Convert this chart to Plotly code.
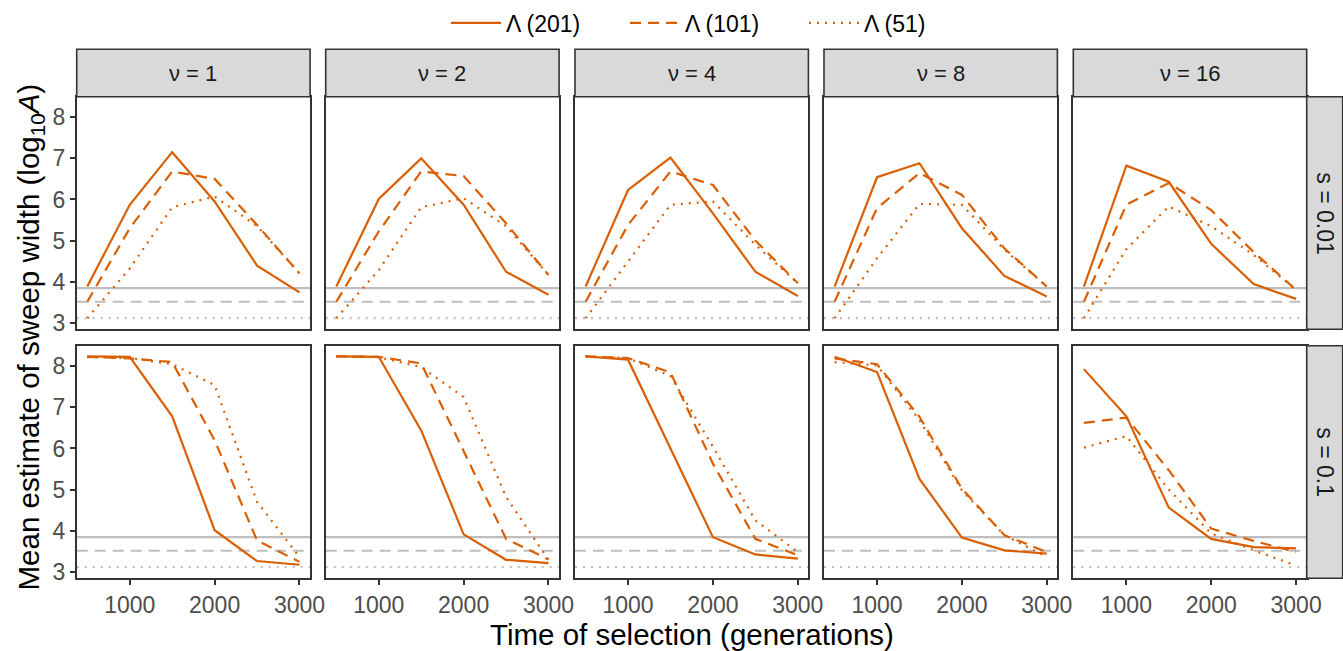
import plotly.graph_objects as go

# Time of selection (generations)
generations = [500, 1000, 1500, 2000, 2500, 3000]
nu_labels = ["ν = 1", "ν = 2", "ν = 4", "ν = 8", "ν = 16"]
s_labels = ["s = 0.01", "s = 0.1"]
y_ticks = [3, 4, 5, 6, 7, 8]
x_ticks = [1000, 2000, 3000]

# Mean log10 sweep width, one list per ν; s = 0.01
s001_lambda201 = [
    [3.88, 5.87, 7.15, 5.95, 4.39, 3.74],
    [3.88, 6.01, 7.00, 5.87, 4.24, 3.68],
    [3.88, 6.23, 7.02, 5.66, 4.24, 3.65],
    [3.88, 6.54, 6.88, 5.30, 4.14, 3.64],
    [3.88, 6.82, 6.43, 4.92, 3.94, 3.58],
]
s001_lambda101 = [
    [3.51, 5.30, 6.68, 6.50, 5.38, 4.20],
    [3.51, 5.22, 6.68, 6.57, 5.42, 4.16],
    [3.51, 5.38, 6.68, 6.35, 5.00, 3.96],
    [3.51, 5.79, 6.64, 6.11, 4.81, 3.88],
    [3.51, 5.87, 6.40, 5.74, 4.72, 3.80],
]
s001_lambda51 = [
    [3.11, 4.32, 5.81, 6.07, 5.35, 4.20],
    [3.11, 4.28, 5.81, 6.03, 5.35, 4.16],
    [3.11, 4.49, 5.87, 5.95, 4.90, 3.96],
    [3.11, 4.57, 5.89, 5.87, 4.78, 3.88],
    [3.11, 4.79, 5.83, 5.35, 4.65, 3.80],
]
# s = 0.1
s01_lambda201 = [
    [8.24, 8.23, 6.78, 4.01, 3.26, 3.17],
    [8.24, 8.23, 6.44, 3.91, 3.29, 3.21],
    [8.24, 8.16, 6.00, 3.84, 3.42, 3.32],
    [8.23, 7.86, 5.26, 3.83, 3.52, 3.44],
    [7.93, 6.78, 4.56, 3.80, 3.60, 3.57],
]
s01_lambda101 = [
    [8.23, 8.19, 8.10, 6.20, 3.76, 3.24],
    [8.24, 8.23, 8.07, 5.95, 3.80, 3.30],
    [8.24, 8.20, 7.85, 5.63, 3.80, 3.40],
    [8.19, 8.05, 6.77, 5.02, 3.89, 3.48],
    [6.62, 6.75, 5.47, 4.05, 3.75, 3.48],
]
s01_lambda51 = [
    [8.22, 8.20, 8.05, 7.54, 4.70, 3.36],
    [8.24, 8.22, 7.98, 7.25, 4.82, 3.29],
    [8.24, 8.20, 7.76, 6.04, 4.25, 3.48],
    [8.10, 8.02, 6.69, 4.98, 3.89, 3.36],
    [6.02, 6.30, 5.00, 3.93, 3.52, 3.15],
]
# Neutral baseline for each window size
baseline_201 = 3.84
baseline_101 = 3.51
baseline_51 = 3.11

series_names = ["Λ (201)", "Λ (101)", "Λ (51)"]

W, H = 1343, 651
ORANGE = "#D95F02"
GREY = "#BEBEBE"
DARK = "#333333"
FONT = "Liberation Sans, Arial, sans-serif"

dashes = ["solid", "11px,7px", "2px,6px"]

# panel geometry in pixels
col_left = [76.7, 325.7, 575.0, 824.0, 1073.3]
panel_w = 233.4
row_top = [96.7, 345.7]
panel_h = 232.6
strip_top = 49.3
strip_right = 1342.7

rows = [
    [s001_lambda201, s001_lambda101, s001_lambda51],
    [s01_lambda201, s01_lambda101, s01_lambda51],
]
baselines = [baseline_201, baseline_101, baseline_51]

fig = go.Figure()
layout = {}
shapes = []
annotations = []

for r in range(2):
    for c in range(5):
        k = r * 5 + c + 1
        xa = "x" if k == 1 else f"x{k}"
        ya = "y" if k == 1 else f"y{k}"
        x0 = col_left[c] / W
        x1 = (col_left[c] + panel_w) / W
        y1 = 1 - row_top[r] / H
        y0 = 1 - (row_top[r] + panel_h) / H
        bottom = r == 1
        left = c == 0
        layout["xaxis" if k == 1 else f"xaxis{k}"] = dict(
            domain=[x0, x1], anchor=ya, range=[375, 3125],
            showline=True, mirror=True, linecolor=DARK, linewidth=1.6,
            showgrid=False, zeroline=False,
            tickvals=x_ticks, ticks="outside" if bottom else "",
            ticklen=5, tickwidth=1.5, tickcolor=DARK,
            showticklabels=bottom,
            tickfont=dict(size=23, color="#4D4D4D", family=FONT),
        )
        layout["yaxis" if k == 1 else f"yaxis{k}"] = dict(
            domain=[y0, y1], anchor=xa, range=[2.84, 8.5],
            showline=True, mirror=True, linecolor=DARK, linewidth=1.6,
            showgrid=False, zeroline=False,
            tickvals=y_ticks, ticks="outside" if left else "",
            ticklen=5, tickwidth=1.5, tickcolor=DARK,
            showticklabels=left,
            tickfont=dict(size=23, color="#4D4D4D", family=FONT),
        )
        # baselines
        for b, d in zip(baselines, dashes):
            shapes.append(dict(
                type="line", xref=f"{xa} domain", yref=ya,
                x0=0, x1=1, y0=b, y1=b, layer="below",
                line=dict(color=GREY, width=2.2, dash=d),
            ))
        # series
        for j, (data, name, d) in enumerate(zip(rows[r], series_names, dashes)):
            fig.add_trace(go.Scatter(
                x=generations, y=data[c], mode="lines", name=name,
                legendgroup=name, showlegend=(k == 1),
                line=dict(color=ORANGE, width=2.2, dash=d),
                xaxis=xa, yaxis=ya,
            ))

# top strips
for c in range(5):
    x0 = col_left[c] / W
    x1 = (col_left[c] + panel_w) / W
    shapes.append(dict(
        type="rect", xref="paper", yref="paper",
        x0=x0, x1=x1, y0=1 - row_top[0] / H, y1=1 - strip_top / H,
        fillcolor="#D9D9D9", line=dict(color=DARK, width=1.6), layer="above",
    ))
    annotations.append(dict(
        text=nu_labels[c], xref="paper", yref="paper",
        x=(x0 + x1) / 2, y=1 - (strip_top + row_top[0]) / 2 / H,
        showarrow=False, xanchor="center", yanchor="middle",
        font=dict(size=22, color="#1A1A1A", family=FONT),
    ))

# right strips
sx0 = (col_left[4] + panel_w) / W
for r in range(2):
    y1 = 1 - row_top[r] / H
    y0 = 1 - (row_top[r] + panel_h) / H
    shapes.append(dict(
        type="rect", xref="paper", yref="paper",
        x0=sx0, x1=strip_right / W, y0=y0, y1=y1,
        fillcolor="#D9D9D9", line=dict(color=DARK, width=1.6), layer="above",
    ))
    annotations.append(dict(
        text=s_labels[r], xref="paper", yref="paper",
        x=(sx0 + strip_right / W) / 2, y=(y0 + y1) / 2, textangle=90,
        showarrow=False, xanchor="center", yanchor="middle",
        font=dict(size=23, color="#1A1A1A", family=FONT),
    ))

# axis titles
annotations.append(dict(
    text="Mean estimate of sweep width (log<sub>10</sub><i>A</i>)",
    xref="paper", yref="paper", x=30 / W,
    y=1 - (row_top[0] + row_top[1] + panel_h) / 2 / H,
    textangle=-90, showarrow=False, xanchor="center", yanchor="middle",
    font=dict(size=29.5, color="black", family=FONT),
))
annotations.append(dict(
    text="Time of selection (generations)",
    xref="paper", yref="paper",
    x=(col_left[0] + col_left[4] + panel_w) / 2 / W, y=1 - 634 / H,
    showarrow=False, xanchor="center", yanchor="middle",
    font=dict(size=29.5, color="black", family=FONT),
))

fig.update_layout(
    **layout,
    width=W, height=H,
    margin=dict(l=0, r=0, t=0, b=0, pad=0, autoexpand=False),
    paper_bgcolor="white", plot_bgcolor="white",
    shapes=shapes, annotations=annotations,
    showlegend=True,
    legend=dict(
        orientation="h", x=446 / W, xanchor="left",
        y=1 - 23 / H, yanchor="middle",
        font=dict(size=23, color="black", family=FONT),
        itemwidth=50, entrywidth=114, entrywidthmode="pixels",
        bgcolor="rgba(0,0,0,0)",
    ),
    font=dict(family=FONT),
)

fig.write_html("out.html")
